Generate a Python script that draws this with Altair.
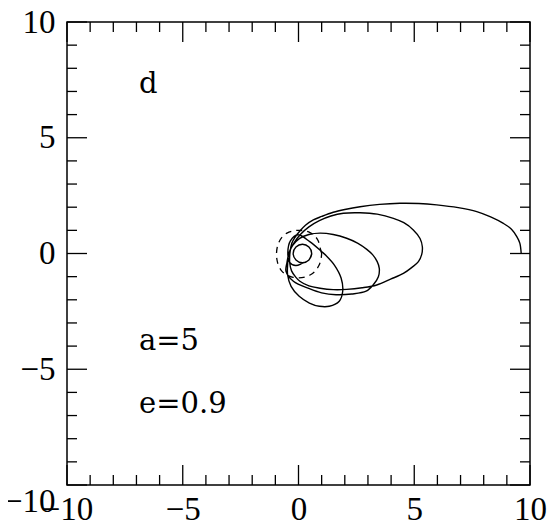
import altair as alt
import pandas as pd

# ---- orbit track (in path order) ----
orbit_x = [9.62, 9.56, 9.43, 9.20, 8.85, 8.30, 7.70, 6.90, 5.97, 5.20, 4.38, 3.50, 2.66, 2.00, 1.50, 1.00, 0.64, 0.30, 0.06, -0.15, -0.29, -0.37,
           -0.38, -0.30, -0.12, 0.06, 0.45, 0.93, 1.50, 2.08, 2.75, 3.38, 4.00, 4.53, 4.90, 5.18, 5.32, 5.35,
           5.25, 4.96, 4.55, 4.10, 3.40, 2.66, 1.94, 1.40, 0.90, 0.45, 0.08, -0.20, -0.40, -0.50, -0.54,
           -0.22, 0.47, 1.00, 1.62, 2.30, 2.92, 3.23, 3.45, 3.49,
           3.40, 3.20, 2.95, 2.55, 2.08, 1.50, 0.93, 0.45, 0.05, -0.25, -0.42,
           -0.47, -0.47, -0.32, 0.03, 0.47, 0.90, 1.33, 1.76, 1.91, 1.84, 1.55, 1.20, 0.98, 0.50, -0.02,
           -0.35, -0.46, -0.38, -0.12, 0.17, 0.45, 0.57, 0.45, 0.17, -0.11, -0.23, -0.11, 0.17, 0.45, 0.57]
orbit_y = [0.00, 0.45, 0.73, 1.05, 1.30, 1.58, 1.81, 1.98, 2.10, 2.16, 2.17, 2.12, 2.02, 1.90, 1.78, 1.60, 1.45, 1.22, 0.97, 0.70, 0.44, 0.01,
           -0.40, -0.75, -1.02, -1.20, -1.40, -1.50, -1.56, -1.55, -1.48, -1.36, -1.10, -0.86, -0.60, -0.35, -0.05, 0.29,
           0.65, 1.02, 1.33, 1.52, 1.70, 1.76, 1.74, 1.62, 1.42, 1.15, 0.82, 0.45, 0.05, -0.40, -0.77,
           -1.20, -1.52, -1.70, -1.78, -1.75, -1.63, -1.35, -1.00, -0.64,
           -0.35, -0.05, 0.18, 0.45, 0.66, 0.82, 0.88, 0.82, 0.65, 0.35, 0.00,
           -0.48, -0.92, -1.42, -1.85, -2.14, -2.28, -2.28, -2.06, -1.63, -1.06, -0.50, -0.10, 0.10, 0.50, 0.81,
           0.55, 0.05, -0.38, -0.52, -0.42, -0.28, 0.00, 0.28, 0.40, 0.28, 0.00, -0.28, -0.40, -0.28, 0.00]

# ---- dashed ring near the centre ----
ring_x = [1.00, 0.92, 0.85, 0.70, 0.50, 0.26, 0.00, -0.26, -0.50, -0.70, -0.84, -0.92, -0.95, -0.93, -0.86, -0.72, -0.52, -0.27, 0.00, 0.27, 0.52, 0.73, 0.88, 0.97, 1.00]
ring_y = [0.00, 0.30, 0.55, 0.76, 0.90, 0.98, 1.00, 0.97, 0.88, 0.72, 0.50, 0.26, 0.00, -0.27, -0.53, -0.76, -0.92, -1.02, -1.05, -1.02, -0.92, -0.75, -0.52, -0.26, 0.00]

axis_values = [-10, -5, 0, 5, 10]
major_ticks = [-10, -5, 0, 5, 10]
minor_ticks = [v for v in range(-10, 11) if v % 5 != 0]

ann_text = ["d", "a=5", "e=0.9"]
ann_x = [-6.89, -6.89, -6.89]
ann_y = [6.93, -4.17, -6.89]

W = 463
H = 463
LFONT = "Liberation Serif"
AFONT = "DejaVu Serif"

orbit_df = pd.DataFrame({"x": orbit_x, "y": orbit_y, "i": list(range(len(orbit_x)))})
ring_df = pd.DataFrame({"x": ring_x, "y": ring_y, "i": list(range(len(ring_x)))})
major_df = pd.DataFrame({"v": major_ticks})
minor_df = pd.DataFrame({"v": minor_ticks})
ann_df = pd.DataFrame({"t": ann_text, "x": ann_x, "y": ann_y})

xs = alt.Scale(domain=[-10, 10], nice=False, zero=False)
ys = alt.Scale(domain=[-10, 10], nice=False, zero=False)

x_axis = alt.Axis(values=axis_values, title=None, labelPadding=8, labelFlush=False,
                  domain=False, grid=False, ticks=False, tickSize=0,
                  labelFont=LFONT, labelFontSize=33, labelColor="black")
y_axis = alt.Axis(values=axis_values, title=None, labelPadding=12, labelFlush=False,
                  domain=False, grid=False, ticks=False, tickSize=0,
                  labelFont=LFONT, labelFontSize=33, labelColor="black",
                  labelBaseline={"condition": {"test": "datum.value == -10", "value": "top"}, "value": "middle"})

orbit = alt.Chart(orbit_df).mark_line(color="black", strokeWidth=1.4, interpolate="catmull-rom").encode(
    x=alt.X("x:Q", scale=xs, axis=x_axis),
    y=alt.Y("y:Q", scale=ys, axis=y_axis),
    order="i:Q",
)

ring = alt.Chart(ring_df).mark_line(color="black", strokeWidth=1.3, strokeDash=[6, 5], interpolate="catmull-rom").encode(
    x=alt.X("x:Q", scale=xs), y=alt.Y("y:Q", scale=ys), order="i:Q"
)

def tick_layers(df, length):
    bottom = alt.Chart(df).mark_rule(color="black", strokeWidth=1.3).encode(
        x=alt.X("v:Q", scale=xs), y=alt.value(H), y2=alt.value(H - length))
    top = alt.Chart(df).mark_rule(color="black", strokeWidth=1.3).encode(
        x=alt.X("v:Q", scale=xs), y=alt.value(0), y2=alt.value(length))
    left = alt.Chart(df).mark_rule(color="black", strokeWidth=1.3).encode(
        y=alt.Y("v:Q", scale=ys), x=alt.value(0), x2=alt.value(length))
    right = alt.Chart(df).mark_rule(color="black", strokeWidth=1.3).encode(
        y=alt.Y("v:Q", scale=ys), x=alt.value(W), x2=alt.value(W - length))
    return [bottom, top, left, right]

ann = alt.Chart(ann_df).mark_text(font=AFONT, fontSize=29, align="left", baseline="alphabetic", color="black").encode(
    x=alt.X("x:Q", scale=xs), y=alt.Y("y:Q", scale=ys), text="t:N"
)

chart = alt.layer(
    orbit, ring, *tick_layers(major_df, 20), *tick_layers(minor_df, 10), ann
).properties(
    width=W, height=H,
    background="white",
    autosize=alt.AutoSizeParams(type="none"),
    padding={"left": 59, "top": 14, "right": 22, "bottom": 42},
).configure_view(
    stroke="black", strokeWidth=1.5
).configure_axis(
    domain=False, grid=False, ticks=False, tickSize=0, title=None,
    labelFont=LFONT, labelFontSize=33, labelColor="black", labelFlush=False,
)

chart.save("out.html", embed_options={"renderer": "svg", "actions": False})
